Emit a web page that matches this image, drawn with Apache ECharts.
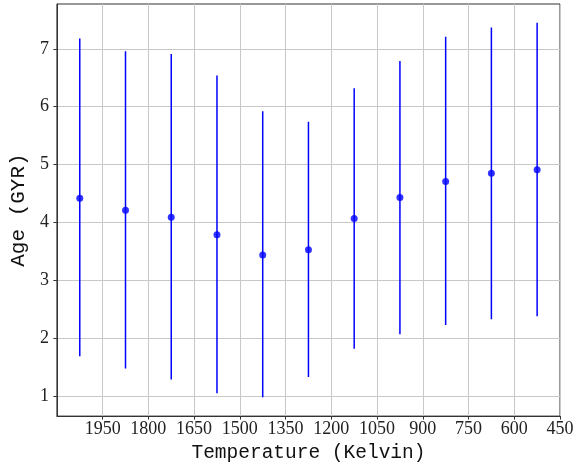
<!DOCTYPE html>
<html>
<head>
<meta charset="utf-8">
<script src="https://cdn.jsdelivr.net/npm/echarts@6/dist/echarts.min.js"></script>
<style>
  html, body { margin: 0; padding: 0; background: #fff; }
  #chart { width: 584px; height: 468px; }
</style>
</head>
<body>
<div id="chart"></div>
<script>
// temperature bins (Kelvin) and ages (GYR) with error range
const temps = [2025, 1875, 1725, 1575, 1425, 1275, 1125, 975, 825, 675, 525];
const ages = [4.42, 4.21, 4.09, 3.79, 3.44, 3.53, 4.07, 4.43, 4.71, 4.85, 4.91];
const ageLow = [1.69, 1.48, 1.29, 1.05, 0.98, 1.33, 1.82, 2.07, 2.23, 2.33, 2.38];
const ageHigh = [7.18, 6.96, 6.91, 6.54, 5.92, 5.74, 6.32, 6.79, 7.21, 7.37, 7.45];

const xTicks = [1950, 1800, 1650, 1500, 1350, 1200, 1050, 900, 750, 600, 450];
const yTicks = [1, 2, 3, 4, 5, 6, 7];

const chart = echarts.init(document.getElementById("chart"));

const points = temps.map((t, i) => [t, ages[i]]);
const bars = temps.map((t, i) => [t, ageLow[i], ageHigh[i]]);

const tickFont = {
  fontFamily: "Liberation Serif",
  fontSize: 18,
  color: "#222",
};

const option = {
  animation: false,
  grid: {
    left: 55,
    right: 24,
    top: 4,
    bottom: 51,
    show: true,
    borderColor: "#333",
    borderWidth: 1,
  },
  xAxis: {
    type: "value",
    inverse: true,
    min: 450,
    max: 2100,
    interval: 150,
    name: "Temperature (Kelvin)",
    nameLocation: "middle",
    nameGap: 24,
    nameTextStyle: {
      fontFamily: "Liberation Mono",
      fontSize: 19.5,
      color: "#111",
    },
    axisLine: { show: true, lineStyle: { color: "#333", width: 1 } },
    axisTick: {
      show: true,
      inside: false,
      length: 3.5,
      customValues: xTicks,
      lineStyle: { color: "#333" },
    },
    axisLabel: {
      ...tickFont,
      margin: 4,
      customValues: xTicks,
      formatter: (v) => (xTicks.includes(v) ? String(v) : ""),
    },
    splitLine: { show: true, lineStyle: { color: "#c8c8c8", width: 1 } },
  },
  yAxis: {
    type: "value",
    min: 0.656,
    max: 7.774,
    name: "Age (GYR)",
    nameLocation: "middle",
    nameGap: 22,
    nameTextStyle: {
      fontFamily: "Liberation Mono",
      fontSize: 21,
      color: "#111",
    },
    axisLine: { show: true, lineStyle: { color: "#333", width: 1 } },
    axisTick: {
      show: true,
      inside: false,
      length: 3.5,
      customValues: yTicks,
      lineStyle: { color: "#333" },
    },
    axisLabel: {
      ...tickFont,
      margin: 8,
      customValues: yTicks,
      formatter: (v) => (yTicks.includes(v) ? String(v) : ""),
    },
    splitLine: { show: true, lineStyle: { color: "#c8c8c8", width: 1 } },
  },
  series: [
    {
      type: "custom",
      name: "range",
      data: bars,
      encode: { x: 0, y: [1, 2] },
      renderItem: (params, api) => {
        const top = api.coord([api.value(0), api.value(2)]);
        const bottom = api.coord([api.value(0), api.value(1)]);
        return {
          type: "line",
          shape: { x1: top[0], y1: top[1], x2: bottom[0], y2: bottom[1] },
          style: { stroke: "#0000ff", lineWidth: 1.5 },
        };
      },
      z: 2,
    },
    {
      type: "scatter",
      name: "age",
      data: points,
      symbol: "circle",
      symbolSize: 7,
      itemStyle: { color: "#0000ff" },
      z: 3,
    },
  ],
};

chart.setOption(option);
</script>
</body>
</html>
